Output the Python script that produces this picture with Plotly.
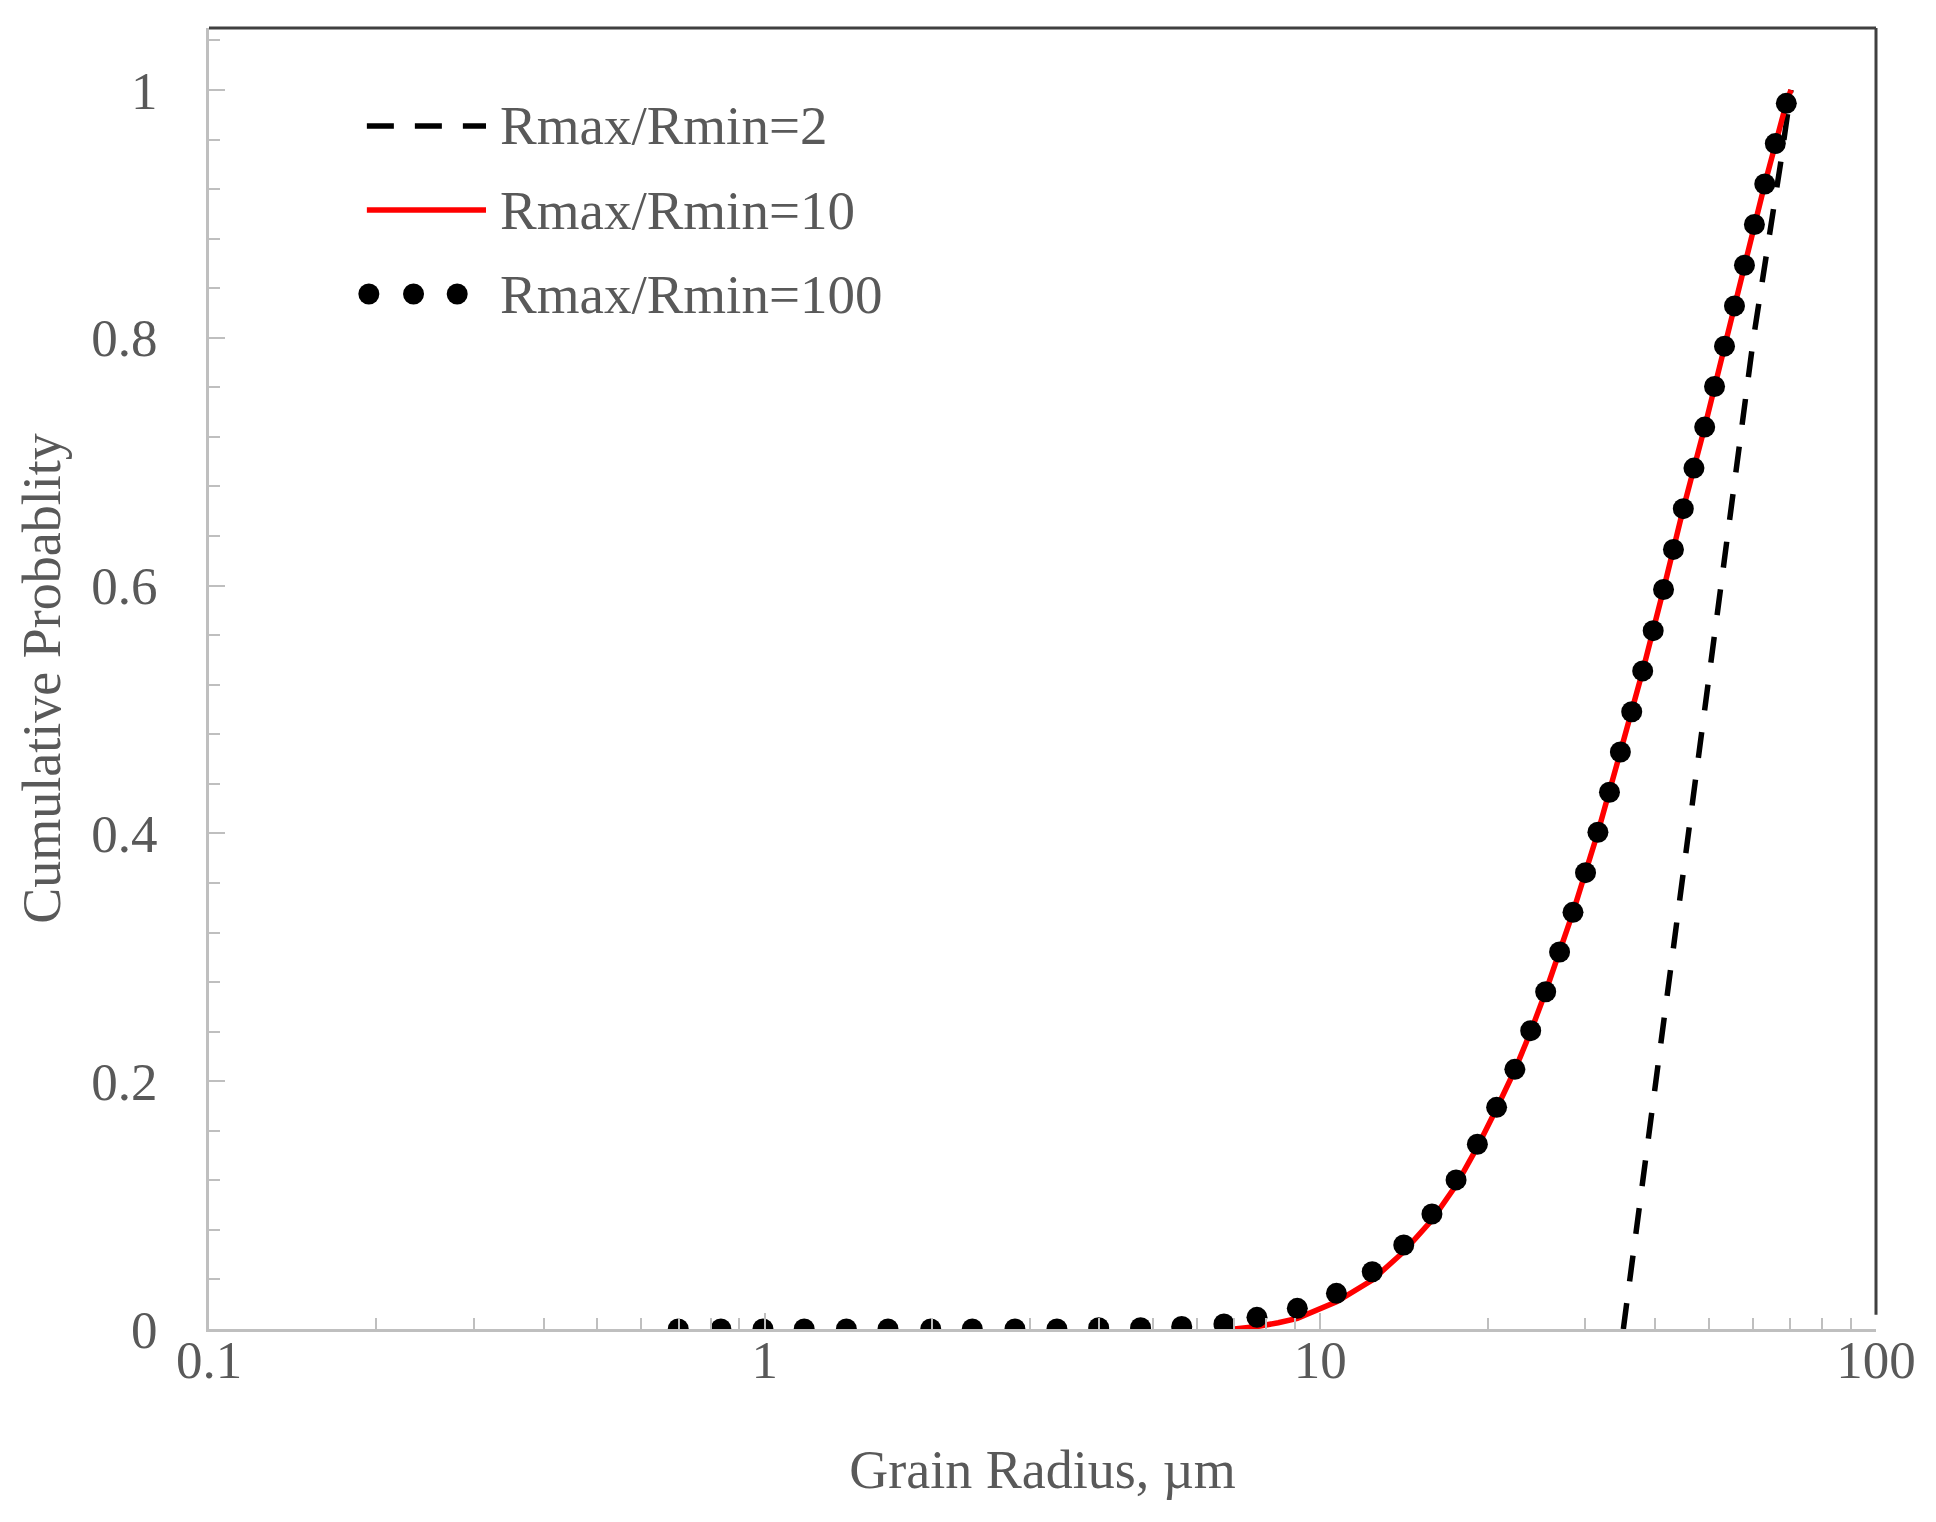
import plotly.graph_objects as go

# ==========================================
# Data
# ==========================================
# Rmax/Rmin = 2
r_ratio2 = [35.1, 40.2, 45.8, 52.6, 60.2, 67.3, 70.3]
p_ratio2 = [0.0, 0.2, 0.4, 0.6, 0.8, 0.94, 1.0]

# Rmax/Rmin = 10
r_ratio10 = [7.0, 7.7, 8.4, 9.09, 10.69, 12.40, 14.13, 15.88, 17.55, 19.17, 20.76,
             22.39, 23.91, 25.44, 28.49, 31.59, 34.67, 38.03, 41.46, 45.00, 49.17,
             53.38, 57.98, 63.07, 68.96, 70.3]
p_ratio10 = [0.0, 0.002, 0.005, 0.0086, 0.022, 0.0395, 0.0624, 0.088, 0.116, 0.147, 0.178,
             0.209, 0.240, 0.2722, 0.3363, 0.4009, 0.4657, 0.5311, 0.5968, 0.6621, 0.7279,
             0.7932, 0.8585, 0.9241, 0.9892, 1.0]

# Rmax/Rmin = 100
r_ratio100 = [0.699, 0.834, 0.993, 1.178, 1.403, 1.667, 1.990, 2.364, 2.821, 3.357,
              3.991, 4.748, 5.630, 6.707, 7.69, 9.09, 10.69, 12.40, 14.13, 15.88,
              17.55, 19.17, 20.76, 22.39, 23.91, 25.44, 26.95, 28.49, 30.01, 31.59,
              33.14, 34.67, 36.34, 38.03, 39.72, 41.46, 43.20, 45.00, 47.03, 49.17,
              51.22, 53.38, 55.63, 57.98, 60.42, 63.07, 65.89, 68.96]
p_ratio100 = [0, 0, 0, 0, 0, 0, 0, 0, 0, 0,
              0.001, 0.001, 0.002, 0.004, 0.0094, 0.0167, 0.0288, 0.0462, 0.0678, 0.0928,
              0.1203, 0.1491, 0.1789, 0.2096, 0.2408, 0.2722, 0.3043, 0.3363, 0.3683, 0.4009,
              0.4332, 0.4657, 0.4982, 0.5311, 0.5636, 0.5968, 0.6292, 0.6621, 0.6948, 0.7279,
              0.7607, 0.7932, 0.8257, 0.8585, 0.8914, 0.9241, 0.9567, 0.9892]

legend_labels = ['Rmax/Rmin=2', 'Rmax/Rmin=10', 'Rmax/Rmin=100']

FONT = 'Liberation Serif'
TEXT_GREY = '#595959'
AXIS_GREY = '#bfbfbf'
FRAME = '#404040'

# page body adds an 8px margin, so the figure is a bit smaller than the window
W, H = 1920, 1506
M_L, M_R, M_T, M_B = 201, 40, 20, 185
PW, PH = W - M_L - M_R, H - M_T - M_B
OFF = 8


def px_to_paper(x, y):
    # screen pixel -> paper coords
    return (x - OFF - M_L) / PW, (H - M_B - (y - OFF)) / PH


# ==========================================
# Figure
# ==========================================
fig = go.Figure()

fig.add_trace(go.Scatter(
    x=r_ratio2, y=p_ratio2, mode='lines', name=legend_labels[0],
    line=dict(color='black', width=5.5, dash='26px,22px')
))
fig.add_trace(go.Scatter(
    x=r_ratio10, y=p_ratio10, mode='lines', name=legend_labels[1],
    line=dict(color='#ff0000', width=5.5)
))
fig.add_trace(go.Scatter(
    x=r_ratio100, y=p_ratio100, mode='markers', name=legend_labels[2],
    marker=dict(color='black', size=21, line=dict(width=0))
))

axis_common = dict(
    showgrid=False, zeroline=False, showline=True,
    linecolor=AXIS_GREY, linewidth=3,
    ticks='inside', tickcolor=AXIS_GREY, tickwidth=2,
    tickfont=dict(family=FONT, size=53, color=TEXT_GREY),
)

fig.update_xaxes(
    type='log', range=[-1, 2], dtick=1, ticklen=16,
    ticklabelstandoff=-18,
    minor=dict(ticks='inside', dtick='D1', ticklen=11, tickcolor=AXIS_GREY, tickwidth=2),
    title=dict(text='Grain Radius, µm', font=dict(family=FONT, size=54, color=TEXT_GREY), standoff=63),
    **axis_common
)
fig.update_yaxes(
    range=[0, 1.05], tick0=0, dtick=0.2, ticklen=16,
    ticklabelstandoff=38,
    minor=dict(ticks='inside', tick0=0, dtick=0.04, ticklen=11, tickcolor=AXIS_GREY, tickwidth=2),
    title=dict(text='Cumulative Probablity', font=dict(family=FONT, size=54, color=TEXT_GREY), standoff=14),
    **axis_common
)

# dark frame on top and right
shapes = [
    dict(type='line', xref='paper', yref='paper', x0=0, x1=1, y0=1, y1=1,
         line=dict(color=FRAME, width=3)),
    dict(type='line', xref='paper', yref='paper', x0=1, x1=1, y0=0.011, y1=1,
         line=dict(color=FRAME, width=3)),
]

# hand-made legend (the dotted sample shows three dots)
rows_y = [126, 210, 294]
sx0, sx1, text_x = 368, 488, 500
ax0, ay = px_to_paper(sx0, rows_y[0])
ax1, _ = px_to_paper(sx1, rows_y[0])
shapes.append(dict(type='line', xref='paper', yref='paper', x0=ax0, x1=ax1, y0=ay, y1=ay,
                   line=dict(color='black', width=5.5, dash='27px,21px')))
ax0, ay = px_to_paper(sx0, rows_y[1])
shapes.append(dict(type='line', xref='paper', yref='paper', x0=ax0, x1=ax1, y0=ay, y1=ay,
                   line=dict(color='#ff0000', width=5.5)))
for dx in [370, 415, 459]:
    cx, cy = px_to_paper(dx, rows_y[2])
    shapes.append(dict(type='circle', xref='paper', yref='paper',
                       xsizemode='pixel', ysizemode='pixel', xanchor=cx, yanchor=cy,
                       x0=-10.5, x1=10.5, y0=-10.5, y1=10.5,
                       fillcolor='black', line=dict(width=0)))

annotations = []
for label, ry in zip(legend_labels, rows_y):
    tx, ty = px_to_paper(text_x, ry)
    annotations.append(dict(
        text=label, x=tx, y=ty, xref='paper', yref='paper',
        xanchor='left', yanchor='middle', showarrow=False,
        font=dict(family=FONT, size=55, color=TEXT_GREY)
    ))

fig.update_layout(
    width=W, height=H,
    margin=dict(l=M_L, r=M_R, t=M_T, b=M_B),
    plot_bgcolor='white', paper_bgcolor='white',
    showlegend=False,
    shapes=shapes,
    annotations=annotations,
)

fig.write_html('out.html')
